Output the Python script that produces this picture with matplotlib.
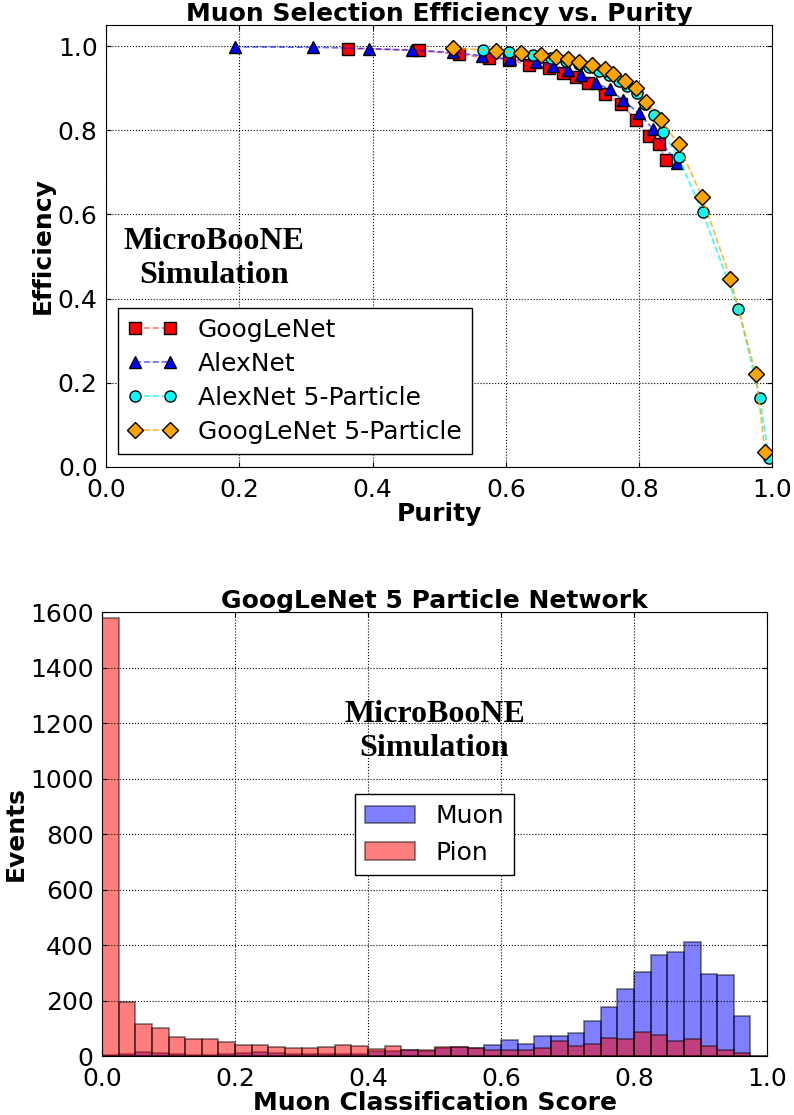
import matplotlib
matplotlib.use('Agg')
import numpy as np
import matplotlib.pyplot as plt

# efficiency vs purity curves
goog_purity = [0.363, 0.469, 0.530, 0.574, 0.605, 0.635, 0.664, 0.685, 0.705, 0.723,
               0.748, 0.773, 0.795, 0.815, 0.829, 0.840]
goog_eff = [0.994, 0.990, 0.980, 0.972, 0.967, 0.955, 0.948, 0.937, 0.926, 0.911,
            0.885, 0.862, 0.825, 0.787, 0.766, 0.728]

alex_purity = [0.193, 0.311, 0.394, 0.459, 0.520, 0.564, 0.606, 0.645, 0.670, 0.693,
               0.713, 0.735, 0.756, 0.775, 0.800, 0.821, 0.856]
alex_eff = [0.998, 0.997, 0.994, 0.990, 0.985, 0.977, 0.969, 0.962, 0.953, 0.943,
            0.931, 0.912, 0.897, 0.872, 0.840, 0.802, 0.721]

alex5_purity = [0.566, 0.605, 0.640, 0.668, 0.690, 0.710, 0.725, 0.739, 0.754, 0.769,
                0.781, 0.796, 0.808, 0.822, 0.835, 0.859, 0.895, 0.949, 0.981, 0.995]
alex5_eff = [0.991, 0.985, 0.978, 0.972, 0.965, 0.958, 0.950, 0.941, 0.930, 0.918,
             0.905, 0.888, 0.862, 0.835, 0.796, 0.736, 0.605, 0.376, 0.163, 0.020]

goog5_purity = [0.520, 0.585, 0.623, 0.653, 0.675, 0.693, 0.710, 0.729, 0.748, 0.761,
                0.778, 0.795, 0.810, 0.833, 0.859, 0.894, 0.937, 0.975, 0.989]
goog5_eff = [0.995, 0.989, 0.983, 0.979, 0.973, 0.969, 0.961, 0.956, 0.945, 0.934,
             0.918, 0.900, 0.868, 0.824, 0.766, 0.642, 0.447, 0.220, 0.036]

# muon score histogram, 40 bins of 0.025
bin_edges = np.linspace(0.0, 1.0, 41)
muon_counts = [3, 8, 14, 10, 7, 5, 5, 6, 12, 13,
               10, 7, 8, 8, 6, 6, 18, 17, 22, 19,
               30, 33, 28, 38, 56, 43, 72, 73, 83, 127,
               176, 242, 301, 364, 374, 410, 295, 293, 143, 0]
pion_counts = [1580, 195, 114, 100, 68, 62, 60, 49, 38, 40,
               31, 28, 28, 31, 40, 37, 24, 35, 21, 23,
               31, 34, 29, 22, 22, 22, 28, 55, 37, 44,
               66, 62, 86, 74, 55, 60, 37, 23, 10, 0]

FS = 18
plt.rcParams['font.family'] = 'DejaVu Sans'
plt.rcParams['font.size'] = FS

fig = plt.figure(figsize=(7.94, 11.15), dpi=100)

# ---- top: efficiency vs purity ----
ax1 = fig.add_axes([0.1335, 0.5813, 0.8394, 0.3963])
ax1.plot(goog_purity, goog_eff, '--', marker='s', color=(1, 0, 0, 0.5), mfc='red',
         mec='black', ms=8, lw=1.2, label='GoogLeNet')
ax1.plot(alex_purity, alex_eff, '--', marker='^', color=(0, 0, 1, 0.6), mfc='blue',
         mec='black', ms=9, lw=1.2, label='AlexNet')
ax1.plot(alex5_purity, alex5_eff, '--', marker='o', color=(0, 1, 1, 0.8), mfc='cyan',
         mec='black', ms=8, lw=1.2, label='AlexNet 5-Particle')
ax1.plot(goog5_purity, goog5_eff, '--', marker='D', color=(1, 0.65, 0, 0.8), mfc='orange',
         mec='black', ms=8, lw=1.2, label='GoogLeNet 5-Particle')
ax1.set_xlim(0, 1)
ax1.set_ylim(0, 1.05)
ax1.set_yticks(np.arange(0, 1.01, 0.2))
ax1.set_xticks(np.arange(0, 1.01, 0.2))
ax1.grid(True, color='black', linestyle=':', linewidth=0.8)
ax1.tick_params(direction='in', top=True, right=True, labelsize=FS, pad=6)
ax1.tick_params(axis='x', pad=8)
ax1.set_title('Muon Selection Efficiency vs. Purity', fontsize=FS, fontweight='bold', pad=3)
ax1.set_xlabel('Purity', fontsize=FS, fontweight='bold', labelpad=0)
ax1.set_ylabel('Efficiency', fontsize=FS, fontweight='bold', labelpad=2)
ax1.text(0.162, 0.495, 'MicroBooNE\nSimulation', ha='center', va='center',
         family='Liberation Serif', fontweight='bold', fontsize=23)
ax1.legend(loc='lower left', bbox_to_anchor=(0.018, 0.029), borderaxespad=0,
           numpoints=2, fontsize=FS, fancybox=False, edgecolor='black',
           framealpha=1, labelspacing=0.4)

# ---- bottom: classification score histogram ----
ax2 = fig.add_axes([0.1285, 0.0529, 0.8375, 0.3982])
centers = 0.5 * (bin_edges[:-1] + bin_edges[1:])
ax2.hist(centers, bins=bin_edges, weights=muon_counts, color='blue', alpha=0.5,
         edgecolor='black', linewidth=1.2, label='Muon')
ax2.hist(centers, bins=bin_edges, weights=pion_counts, color='red', alpha=0.5,
         edgecolor='black', linewidth=1.2, label='Pion')
ax2.set_xlim(0, 1)
ax2.set_ylim(0, 1600)
ax2.set_xticks(np.arange(0, 1.01, 0.2))
ax2.set_yticks(np.arange(0, 1601, 200))
ax2.grid(True, color='black', linestyle=':', linewidth=0.8)
ax2.set_axisbelow(False)
ax2.tick_params(direction='in', top=True, right=True, labelsize=FS, pad=6)
ax2.tick_params(axis='x', pad=8)
ax2.set_title('GoogLeNet 5 Particle Network', fontsize=FS, fontweight='bold', pad=3)
ax2.set_xlabel('Muon Classification Score', fontsize=FS, fontweight='bold', labelpad=0)
ax2.set_ylabel('Events', fontsize=FS, fontweight='bold', labelpad=2)
ax2.text(0.5, 1170, 'MicroBooNE\nSimulation', ha='center', va='center',
         family='Liberation Serif', fontweight='bold', fontsize=23)
ax2.legend(loc='upper center', bbox_to_anchor=(0.5, 0.59), borderaxespad=0,
           fontsize=FS, fancybox=False, edgecolor='black', framealpha=1)

fig.savefig('out.png', dpi=100)
